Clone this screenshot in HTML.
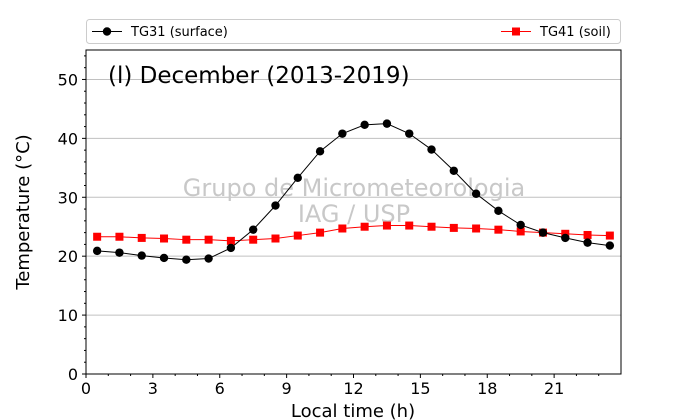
<!DOCTYPE html>
<html><head><meta charset="utf-8"><style>
body{margin:0;background:#fff;}
svg{display:block;font-family:"DejaVu Sans","Liberation Sans",sans-serif;}
</style></head><body>
<svg id="chart" width="690" height="420"></svg>
<script>
const hours=[0.5,1.5,2.5,3.5,4.5,5.5,6.5,7.5,8.5,9.5,10.5,11.5,12.5,13.5,14.5,15.5,16.5,17.5,18.5,19.5,20.5,21.5,22.5,23.5];
const surface=[20.9,20.6,20.1,19.7,19.4,19.6,21.4,24.5,28.6,33.3,37.8,40.8,42.3,42.5,40.8,38.1,34.5,30.6,27.7,25.3,24.0,23.1,22.3,21.8];
const soil=[23.3,23.3,23.1,23.0,22.8,22.8,22.6,22.8,23.0,23.5,24.0,24.7,25.0,25.2,25.2,25.0,24.8,24.7,24.5,24.2,24.0,23.8,23.6,23.5];
const xTicks=[0,3,6,9,12,15,18,21];
const yTicks=[0,10,20,30,40,50];
const L=86,R=621,T=50,B=374;
const X=v=>L+(v/24)*(R-L);
const Y=v=>B-(v/55)*(B-T);
const svg=document.getElementById('chart');
const NS='http://www.w3.org/2000/svg';
function mk(tag,attrs,parent){const e=document.createElementNS(NS,tag);for(const k in attrs)e.setAttribute(k,attrs[k]);(parent||svg).appendChild(e);return e;}
yTicks.forEach(t=>{if(t>0){const g=mk('line',{x1:L,x2:R,y1:Y(t),y2:Y(t),stroke:'#c0c0c0','stroke-width':1});

}});
const w1=mk('text',{x:354,y:196,'text-anchor':'middle','font-size':24,fill:'#c8c8c8'});w1.textContent='Grupo de Micrometeorologia';


const w2=mk('text',{x:354,y:222,'text-anchor':'middle','font-size':24,fill:'#c8c8c8'});w2.textContent='IAG / USP';


const fr=mk('rect',{x:L,y:T,width:R-L,height:B-T,fill:'none',stroke:'#000','stroke-width':1});


yTicks.forEach(t=>{mk('line',{x1:L-4,x2:L,y1:Y(t),y2:Y(t),stroke:'#000'});
const tx=mk('text',{x:L-8,y:Y(t)+6,'text-anchor':'end','font-size':16});tx.textContent=t;

});
for(let v=0;v<=54;v+=2){if(v%10)mk('line',{x1:L-2,x2:L,y1:Y(v),y2:Y(v),stroke:'#000'});}
xTicks.forEach(t=>{mk('line',{x1:X(t),x2:X(t),y1:B,y2:B+4,stroke:'#000'});
const tx=mk('text',{x:X(t),y:B+20,'text-anchor':'middle','font-size':16});tx.textContent=t;

});
for(let v=1;v<24;v++){if(v%3)mk('line',{x1:X(v),x2:X(v),y1:B,y2:B+2,stroke:'#000'});}
const xt=mk('text',{x:353,y:417,'text-anchor':'middle','font-size':18});xt.textContent='Local time (h)';


const yt=mk('text',{x:0,y:0,'text-anchor':'middle','font-size':18,transform:'translate(29,212) rotate(-90)'});yt.textContent='Temperature (°C)';


const tt=mk('text',{x:108,y:83,'font-size':23});tt.textContent='(l) December (2013-2019)';


function series(vals,color,shape,name){
 const pl=mk('polyline',{points:hours.map((h,i)=>X(h)+','+Y(vals[i])).join(' '),fill:'none',stroke:color,'stroke-width':1});
 
 
 hours.forEach((h,i)=>{let m;
  if(shape==='c')m=mk('circle',{cx:X(h),cy:Y(vals[i]),r:4.2,fill:color});
  else m=mk('rect',{x:X(h)-4,y:Y(vals[i])-4,width:8,height:8,fill:color});
  
  });
}
series(soil,'#ff0000','s','tg41-soil');
series(surface,'#000000','c','tg31-surface');
const lg=mk('rect',{x:86.5,y:19.5,width:534,height:24,rx:3,fill:'#fff',stroke:'#ccc'});


mk('line',{x1:92,x2:122,y1:31.5,y2:31.5,stroke:'#000'});mk('circle',{cx:107,cy:31.5,r:4.2,fill:'#000'});
const l1=mk('text',{x:131,y:36,'font-size':13});l1.textContent='TG31 (surface)';


mk('line',{x1:501,x2:531,y1:31.5,y2:31.5,stroke:'#f00'});mk('rect',{x:512,y:27.5,width:8,height:8,fill:'#f00'});
const l2=mk('text',{x:540,y:36,'font-size':13});l2.textContent='TG41 (soil)';


</script>
</body></html>
